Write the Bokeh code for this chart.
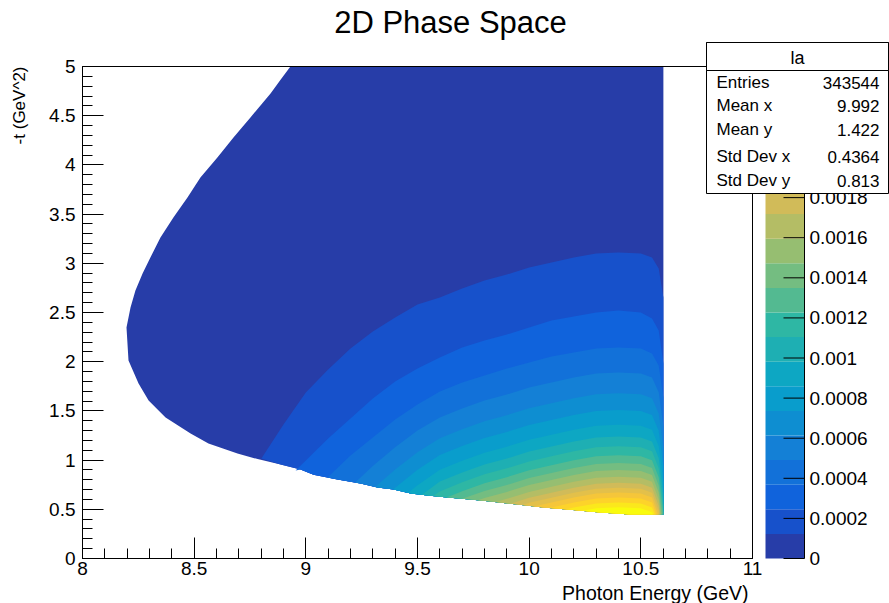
import numpy as np
from bokeh.plotting import figure
from bokeh.models import (Range1d, SingleIntervalTicker, PrintfTickFormatter,
                          Label, BoxAnnotation)
from bokeh.core.properties import value
from bokeh.embed import file_html
from bokeh.resources import INLINE

# ---------------- data ----------------
x_lim = (8.0, 11.0)
y_lim = (0.0, 5.0)
x_title = "Photon Energy (GeV)"
y_title = "-t (GeV^2)"
title_text = "2D Phase Space"

# populated-region boundary: upper-left edge (top -> leftmost point)
upper_bx = [8.931, 8.886, 8.842, 8.797, 8.752, 8.714, 8.676, 8.640, 8.604, 8.566,
            8.528, 8.470, 8.407, 8.349, 8.304, 8.269, 8.237, 8.215, 8.197]
upper_by = [5.000, 4.863, 4.726, 4.604, 4.482, 4.380, 4.278, 4.177, 4.075, 3.974,
            3.872, 3.669, 3.466, 3.262, 3.059, 2.896, 2.724, 2.551, 2.348]
# lower edge (leftmost point -> right edge)
lower_bx = [8.197, 8.206, 8.251, 8.296, 8.372, 8.484, 8.564, 8.694, 8.784, 8.887,
            8.976, 9.034, 9.142, 9.245, 9.321, 9.393, 9.469, 9.545, 9.634, 9.737,
            9.827, 9.948, 10.064, 10.172, 10.319, 10.454, 10.601]
lower_by = [2.144, 2.012, 1.778, 1.606, 1.433, 1.270, 1.169, 1.067, 1.010, 0.955,
            0.905, 0.850, 0.803, 0.762, 0.722, 0.701, 0.661, 0.640, 0.620, 0.600,
            0.579, 0.549, 0.518, 0.498, 0.467, 0.447, 0.447]
x_edge = 10.601

# contour lines between colour bands (band k -> band k+1), from the lower edge
# to the right edge (or back to the lower edge)
level_x = [
    [8.801, 8.9, 9.0, 9.1, 9.2, 9.3, 9.4, 9.5, 9.6, 9.7, 9.8, 9.9, 10.0, 10.1, 10.2, 10.3, 10.4, 10.5, 10.55, 10.58, 10.601],
    [8.954, 9.0, 9.1, 9.2, 9.3, 9.4, 9.5, 9.6, 9.7, 9.8, 9.9, 10.0, 10.1, 10.2, 10.3, 10.4, 10.5, 10.55, 10.58, 10.601],
    [9.097, 9.2, 9.3, 9.4, 9.5, 9.6, 9.7, 9.8, 9.9, 10.0, 10.1, 10.2, 10.3, 10.4, 10.5, 10.55, 10.58, 10.601],
    [9.22, 9.3, 9.4, 9.5, 9.6, 9.7, 9.8, 9.9, 10.0, 10.1, 10.2, 10.3, 10.4, 10.5, 10.55, 10.58, 10.601],
    [9.31, 9.4, 9.5, 9.6, 9.7, 9.8, 9.9, 10.0, 10.1, 10.2, 10.3, 10.4, 10.5, 10.55, 10.58, 10.601],
    [9.39, 9.5, 9.6, 9.7, 9.8, 9.9, 10.0, 10.1, 10.2, 10.3, 10.4, 10.5, 10.55, 10.58, 10.601],
    [9.46, 9.5, 9.6, 9.7, 9.8, 9.9, 10.0, 10.1, 10.2, 10.3, 10.4, 10.5, 10.55, 10.58, 10.601],
    [9.52, 9.6, 9.7, 9.8, 9.9, 10.0, 10.1, 10.2, 10.3, 10.4, 10.5, 10.55, 10.58, 10.601],
    [9.57, 9.6, 9.7, 9.8, 9.9, 10.0, 10.1, 10.2, 10.3, 10.4, 10.5, 10.55, 10.58, 10.601],
    [9.63, 9.7, 9.8, 9.9, 10.0, 10.1, 10.2, 10.3, 10.4, 10.5, 10.55, 10.58, 10.601],
    [9.70, 9.8, 9.9, 10.0, 10.1, 10.2, 10.3, 10.4, 10.5, 10.55, 10.58, 10.596],
    [9.77, 9.8, 9.9, 10.0, 10.1, 10.2, 10.3, 10.4, 10.5, 10.55, 10.58, 10.592],
    [9.85, 9.9, 10.0, 10.1, 10.2, 10.3, 10.4, 10.5, 10.55, 10.58, 10.588],
    [9.92, 10.0, 10.1, 10.2, 10.3, 10.4, 10.5, 10.55, 10.58, 10.585],
    [9.97, 10.0, 10.1, 10.2, 10.3, 10.4, 10.5, 10.55, 10.58, 10.582],
    [10.02, 10.1, 10.2, 10.3, 10.4, 10.5, 10.55, 10.577],
    [10.09, 10.1, 10.2, 10.3, 10.4, 10.5, 10.55, 10.57],
    [10.16, 10.2, 10.3, 10.4, 10.5, 10.55, 10.563],
    [10.24, 10.3, 10.4, 10.5, 10.55, 10.555],
]
level_y = [
    [1.016, 1.362, 1.687, 1.921, 2.134, 2.307, 2.449, 2.581, 2.652, 2.744, 2.825, 2.886, 2.957, 3.008, 3.059, 3.100, 3.110, 3.100, 3.059, 2.947, 2.652],
    [0.894, 0.996, 1.220, 1.423, 1.626, 1.799, 1.931, 2.043, 2.144, 2.215, 2.276, 2.348, 2.419, 2.459, 2.500, 2.520, 2.500, 2.439, 2.317, 1.982],
    [0.823, 1.047, 1.230, 1.413, 1.565, 1.697, 1.789, 1.860, 1.931, 1.992, 2.053, 2.093, 2.134, 2.144, 2.134, 2.083, 1.961, 1.636],
    [0.770, 0.941, 1.131, 1.300, 1.432, 1.524, 1.605, 1.666, 1.737, 1.788, 1.839, 1.880, 1.890, 1.880, 1.839, 1.690, 1.347],
    [0.727, 0.905, 1.079, 1.222, 1.314, 1.395, 1.456, 1.527, 1.578, 1.629, 1.670, 1.680, 1.670, 1.629, 1.474, 1.122],
    [0.700, 0.901, 1.052, 1.144, 1.225, 1.286, 1.357, 1.408, 1.459, 1.500, 1.510, 1.500, 1.459, 1.299, 0.940],
    [0.670, 0.744, 0.902, 0.994, 1.075, 1.136, 1.207, 1.258, 1.309, 1.350, 1.360, 1.350, 1.309, 1.144, 0.779],
    [0.648, 0.782, 0.874, 0.955, 1.016, 1.087, 1.138, 1.189, 1.230, 1.240, 1.230, 1.189, 1.021, 0.651],
    [0.635, 0.682, 0.774, 0.855, 0.916, 0.987, 1.038, 1.089, 1.130, 1.140, 1.130, 1.089, 0.918, 0.544],
    [0.620, 0.684, 0.765, 0.826, 0.897, 0.948, 0.999, 1.040, 1.050, 1.040, 0.999, 0.825, 0.460],
    [0.607, 0.685, 0.746, 0.817, 0.868, 0.919, 0.960, 0.970, 0.960, 0.919, 0.743, 0.447],
    [0.592, 0.615, 0.676, 0.747, 0.798, 0.849, 0.890, 0.900, 0.890, 0.849, 0.671, 0.447],
    [0.574, 0.606, 0.677, 0.728, 0.779, 0.820, 0.830, 0.820, 0.779, 0.599, 0.447],
    [0.558, 0.617, 0.668, 0.719, 0.760, 0.770, 0.760, 0.719, 0.537, 0.447],
    [0.544, 0.567, 0.618, 0.669, 0.710, 0.720, 0.710, 0.669, 0.485, 0.447],
    [0.529, 0.568, 0.619, 0.660, 0.670, 0.660, 0.619, 0.447],
    [0.513, 0.518, 0.569, 0.610, 0.620, 0.610, 0.569, 0.447],
    [0.499, 0.519, 0.560, 0.570, 0.560, 0.519, 0.447],
    [0.484, 0.510, 0.520, 0.510, 0.469, 0.447],
]

# colour scale (20 contour bands, ROOT kBird palette)
z_max = 0.002454
band_colors = ["#273da8", "#1751cb", "#1063dc", "#1271d9", "#1480d6", "#0e8ed1",
               "#099dcc", "#0da7c3", "#1eafb3", "#2eb7a4", "#53ba91", "#74bd81",
               "#96be71", "#b4bd65", "#d1bb59", "#e3c04a", "#f5c63a", "#fdd32a",
               "#fbe81c", "#f9fb0e"]
cbar_ticks = [0.0, 0.0002, 0.0004, 0.0006, 0.0008, 0.0010, 0.0012, 0.0014,
              0.0016, 0.0018, 0.0020, 0.0022, 0.0024]
cbar_labels = ["0", "0.0002", "0.0004", "0.0006", "0.0008", "0.001", "0.0012",
               "0.0014", "0.0016", "0.0018", "0.002", "0.0022", "0.0024"]

# statistics box
stats_title = "la"
stat_names = ["Entries", "Mean x", "Mean y", "Std Dev x", "Std Dev y"]
stat_values = ["343544", "9.992", "1.422", "0.4364", "0.813"]

# ---------------- page geometry (pixels of the 889x603 page) ----------------
W, H = 889, 603
FL, FR, FT, FB = 82, 752, 66, 558          # plot-area box in page pixels
sx_ = (FR - FL) / (x_lim[1] - x_lim[0])
sy_ = (FB - FT) / (y_lim[1] - y_lim[0])


def X(px):
    return x_lim[0] + (px - FL) / sx_


def Y(py):
    return y_lim[0] + (FB - py) / sy_


FONT = "Liberation Sans"
p = figure(width=W, height=H, output_backend="svg", toolbar_location=None,
           title=None, min_border=0,
           x_range=Range1d(X(0), X(W)), y_range=Range1d(Y(H), Y(0)))
p.min_border_left = 0
p.min_border_right = 0
p.min_border_top = 0
p.min_border_bottom = 0
p.background_fill_color = "white"
p.border_fill_color = "white"
p.outline_line_color = None
p.xgrid.visible = False
p.ygrid.visible = False

# z scale for the colour bar (same pixel extent as the y axis 0..5)
zr = z_max / (y_lim[1] - y_lim[0])
p.extra_y_ranges = {"z": Range1d(Y(H) * zr, Y(0) * zr)}

# base region (lowest band)
base_x = upper_bx + lower_bx[1:] + [x_edge, x_edge]
base_y = upper_by + lower_by[1:] + [lower_by[-1], y_lim[1]]
p.patch(base_x, base_y, fill_color=band_colors[0], line_color=None)

# nested regions above each contour
for k in range(len(level_x)):
    px = list(level_x[k])
    py = list(level_y[k])
    x0, x1 = px[0], px[-1]
    if x1 >= x_edge - 1e-9:
        px.append(x_edge)
        py.append(lower_by[-1])
    for bx, by in zip(reversed(lower_bx), reversed(lower_by)):
        if x0 < bx < x1 and bx < x_edge:
            px.append(bx)
            py.append(by)
    p.patch(px, py, fill_color=band_colors[k + 1], line_color=None)

# plot-area box
p.quad(left=[x_lim[0]], right=[x_lim[1]], bottom=[y_lim[0]], top=[y_lim[1]],
       fill_color=None, line_color="black", line_width=1)

# axes drawn at the plot-area edges
p.xaxis.fixed_location = y_lim[0]
p.yaxis.fixed_location = x_lim[0]
p.xaxis.bounds = x_lim
p.yaxis.bounds = y_lim
for ax in (p.xaxis[0], p.yaxis[0]):
    ax.ticker = SingleIntervalTicker(interval=0.5, num_minor_ticks=5)
    ax.formatter = PrintfTickFormatter(format="%g")
    ax.major_tick_in = 21
    ax.major_tick_out = 0
    ax.minor_tick_in = 10
    ax.minor_tick_out = 0
    ax.axis_line_color = "black"
    ax.major_tick_line_color = "black"
    ax.minor_tick_line_color = "black"
    ax.major_label_text_font = FONT
    ax.major_label_text_font_size = "19px"
    ax.major_label_text_color = "black"
p.xaxis.major_label_standoff = 3
p.yaxis.major_label_standoff = 7

# colour bar
z_edges = np.linspace(0, z_max, len(band_colors) + 1)
p.quad(left=X(765), right=X(804), bottom=z_edges[:-1], top=z_edges[1:],
       fill_color=band_colors, line_color=None, y_range_name="z")
p.segment(x0=[X(804)], y0=[0.0], x1=[X(804)], y1=[z_max], line_color="black",
          y_range_name="z")
p.segment(x0=[X(783)] * len(cbar_ticks), y0=cbar_ticks,
          x1=[X(804)] * len(cbar_ticks), y1=cbar_ticks,
          line_color="black", y_range_name="z")
p.text(x=[X(809)] * len(cbar_ticks), y=cbar_ticks, text=cbar_labels,
       text_font=value(FONT), text_font_size=value("19px"), text_color="black",
       text_align="left", text_baseline="middle", y_range_name="z")

# titles
p.add_layout(Label(x=X(450), y=Y(22), text=title_text, text_font=FONT,
                   text_font_size="31px", text_align="center",
                   text_baseline="middle", text_color="black"))
p.add_layout(Label(x=X(748), y=Y(592), text=x_title, text_font=FONT,
                   text_font_size="19.5px", text_align="right",
                   text_baseline="middle", text_color="black"))
p.add_layout(Label(x=X(19), y=Y(66), text=y_title, text_font=FONT,
                   text_font_size="17px", text_align="right", angle=np.pi / 2,
                   text_baseline="middle", text_color="black"))

# statistics box
p.add_layout(BoxAnnotation(left=X(706), right=X(888), top=Y(42), bottom=Y(193),
                           fill_color="white", fill_alpha=1.0, line_color="black",
                           line_width=1, line_alpha=1.0, level="overlay"))
p.add_layout(BoxAnnotation(left=X(706), right=X(888), top=Y(42), bottom=Y(70),
                           fill_color="white", fill_alpha=1.0, line_color="black",
                           line_width=1, line_alpha=1.0, level="overlay"))
p.add_layout(Label(x=X(797), y=Y(57), text=stats_title, text_font=FONT,
                   text_font_size="18px", text_align="center",
                   text_baseline="middle", text_color="black", level="overlay"))
row_y = [82, 105, 129, 156, 180]
for name, val, ry in zip(stat_names, stat_values, row_y):
    p.add_layout(Label(x=X(716), y=Y(ry), text=name, text_font=FONT,
                       text_font_size="17px", text_align="left",
                       text_baseline="middle", text_color="black", level="overlay"))
    p.add_layout(Label(x=X(879), y=Y(ry), text=val, text_font=FONT,
                       text_font_size="17px", text_align="right",
                       text_baseline="middle", text_color="black", level="overlay"))

open("out.html", "w").write(file_html(p, INLINE))
